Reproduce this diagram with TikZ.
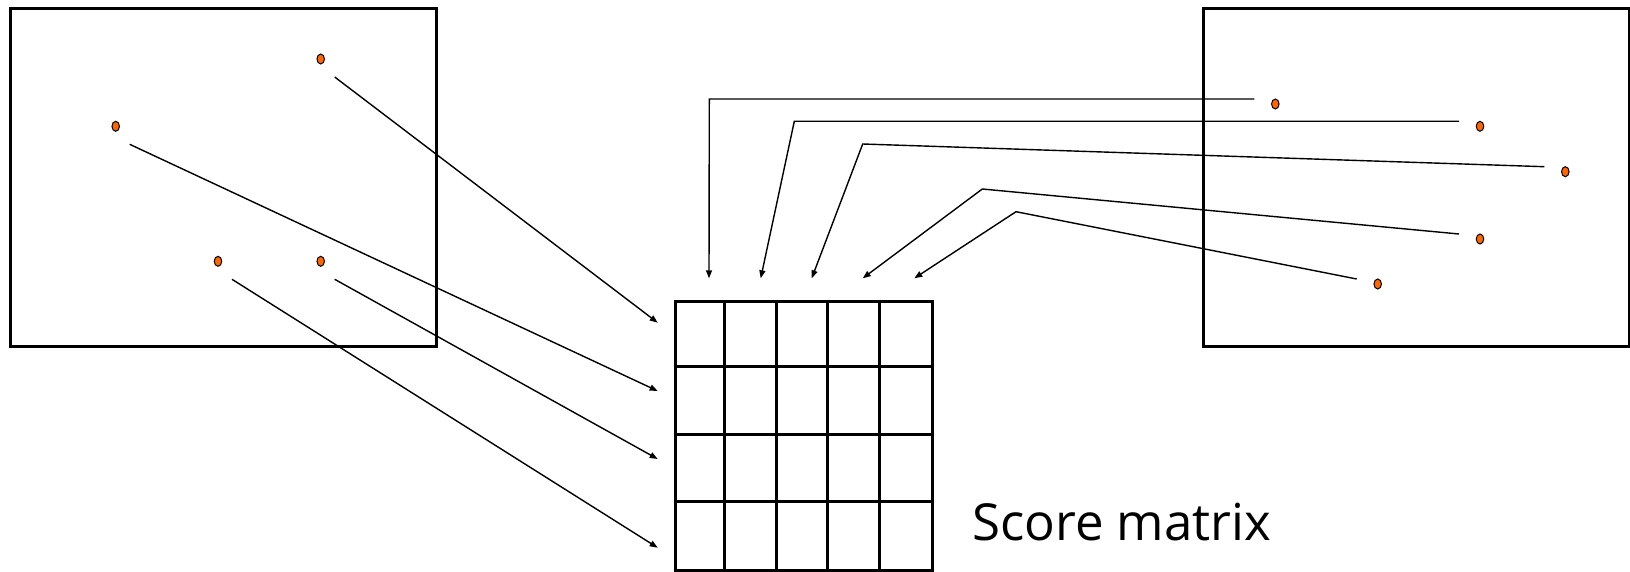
\documentclass[tikz,border=0pt]{standalone}
\usepackage{fontspec}
\setmainfont{Open Sans}
\usetikzlibrary{positioning,arrows.meta,shapes.geometric}
\definecolor{dotorange}{HTML}{FF6600}

\begin{document}
\begin{tikzpicture}[x=1pt, y=-1pt,
  frame/.style={draw, line width=3pt, minimum width=426pt, minimum height=337pt, inner sep=0pt},
  pt/.style={ellipse, draw, line width=1pt, fill=dotorange, minimum width=7.5pt, minimum height=10pt, inner sep=0pt},
  arr/.style={line width=1.4pt, -{Triangle[length=8pt, width=6pt]}}]
\useasboundingbox (0,0) rectangle (1630,572);
% the two images
\node[frame] (imgA) at (223,177.5) {};
\node[frame] (imgB) at (1416,177.5) {};
% score matrix, 5 x 4 cells
\node[draw, line width=3pt, minimum width=257pt, minimum height=269pt, inner sep=0pt] (score) at (803.5,435.5) {};
\foreach \i in {1,...,4} \draw[line width=3pt] ([xshift=\i*51.4pt]score.north west) -- ([xshift=\i*51.4pt]score.south west);
\foreach \j in {1,2,3} \draw[line width=3pt] ([yshift=-\j*67.25pt]score.north west) -- ([yshift=-\j*67.25pt]score.north east);
\node[font=\fontsize{51}{60}\selectfont, anchor=base west, inner sep=0pt] (label) at (972,540) {Score matrix};
% points in the left image
\node[pt] (a1) at (320.7,59) {};
\node[pt] (a2) at (115.7,126.3) {};
\node[pt] (a3) at (218,261.3) {};
\node[pt] (a4) at (320.7,261.3) {};
% points in the right image
\node[pt] (b1) at (1275.3,104) {};
\node[pt] (b2) at (1480,126.3) {};
\node[pt] (b3) at (1565.3,171.7) {};
\node[pt] (b4) at (1480,239) {};
\node[pt] (b5) at (1377.7,284) {};
% row and column entries
\foreach \n/\y in {1/322.7, 2/391, 3/459, 4/547.7} \coordinate (row\n) at (657.7,\y);
\foreach \n/\x in {1/709, 2/760.7, 3/811.7, 4/862.7, 5/914.3} \coordinate (col\n) at (\x,278.3);
\foreach \n/\x/\y in {1/709.3/99, 2/794.3/121.3, 3/862.7/144, 4/982.3/189, 5/1016/211.7} \coordinate (bend\n) at (\x,\y);
\draw[arr] ([shift={(14,18)}]a1.center) -- (row1);
\draw[arr] ([shift={(14,18)}]a2.center) -- (row2);
\draw[arr] ([shift={(14,18)}]a4.center) -- (row3);
\draw[arr] ([shift={(14,18)}]a3.center) -- (row4);
\foreach \n in {1,...,5} \draw[arr] ([shift={(-21,-5)}]b\n.center) -- (bend\n) -- (col\n);
\end{tikzpicture}
\end{document}
